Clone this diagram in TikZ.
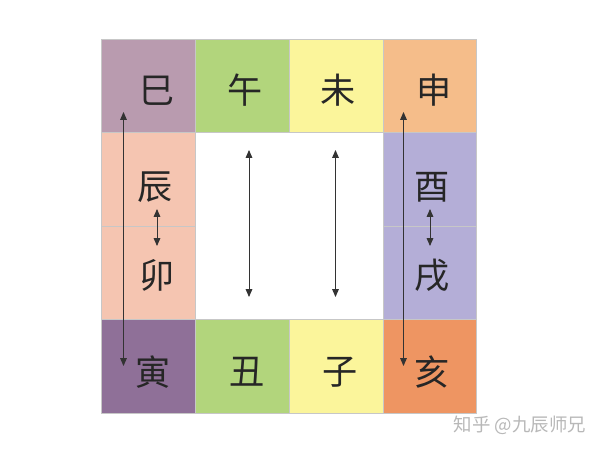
\documentclass[tikz,border=0pt]{standalone}
\usepackage{fontspec}
\newfontfamily\cjk{Noto Sans CJK SC}
\usetikzlibrary{arrows.meta}

\definecolor{siC}{HTML}{B99BAF}
\definecolor{wuC}{HTML}{B2D57C}
\definecolor{weiC}{HTML}{FBF59B}
\definecolor{shenC}{HTML}{F5BD8A}
\definecolor{chenC}{HTML}{F5C5B1}
\definecolor{youC}{HTML}{B4AED7}
\definecolor{yinC}{HTML}{8F7098}
\definecolor{haiC}{HTML}{EE9562}

\begin{document}
\begin{tikzpicture}[x=0.02cm,y=-0.02cm,
    cell/.style={draw=black!22, line width=0.4pt},
    zhi/.style={font=\cjk\fontsize{20}{20}\selectfont, text=black!85},
    link/.style={{Triangle[length=4.5pt,width=3.8pt]}-{Triangle[length=4.5pt,width=3.8pt]}, line width=0.55pt, draw=black!80}]
  \useasboundingbox (0,0) rectangle (600,450);

  % top row
  \draw [cell,fill=siC](101.5,39) rectangle (195.5,132.5);
  \draw [cell,fill=wuC](195.5,39) rectangle (289.5,132.5);
  \draw [cell,fill=weiC](289.5,39) rectangle (383,132.5);
  \draw [cell,fill=shenC](383,39) rectangle (476.5,132.5);

  % side columns
  \draw [cell,fill=chenC](101.5,132.5) rectangle (195.5,226);
  \draw [cell,fill=chenC](101.5,226) rectangle (195.5,319.5);
  \draw [cell,fill=youC](383,132.5) rectangle (476.5,226);
  \draw [cell,fill=youC](383,226) rectangle (476.5,319.5);

  % bottom row
  \draw [cell,fill=yinC](101.5,319.5) rectangle (195.5,413);
  \draw [cell,fill=wuC](195.5,319.5) rectangle (289.5,413);
  \draw [cell,fill=weiC](289.5,319.5) rectangle (383,413);
  \draw [cell,fill=haiC](383,319.5) rectangle (476.5,413);

  % branches
  \node [zhi] (si) at (157,91) {巳};
  \node [zhi] (wu) at (245,90) {午};
  \node [zhi] (wei) at (338,90) {未};
  \node [zhi] (shen) at (434,90) {申};
  \node [zhi] (chen) at (155,187) {辰};
  \node [zhi] (mao) at (157,275) {卯};
  \node [zhi] (you) at (432,187) {酉};
  \node [zhi] (xu) at (432,275) {戌};
  \node [zhi] (yin) at (153,372) {寅};
  \node [zhi] (chou) at (247,372) {丑};
  \node [zhi] (zi) at (340,372) {子};
  \node [zhi] (hai) at (432,372) {亥};

  % arrow ends
  \coordinate (siA) at (123.5,112);
  \coordinate (yinA) at (123.5,366);
  \coordinate (shenA) at (403.5,112);
  \coordinate (haiA) at (403.5,366);
  \coordinate (chenA) at (157,209);
  \coordinate (maoA) at (157,246);
  \coordinate (youA) at (430,209);
  \coordinate (xuA) at (430,246);
  \coordinate (wuA) at (249,150);
  \coordinate (chouA) at (249,297);
  \coordinate (weiA) at (335.5,150);
  \coordinate (ziA) at (335.5,297);

  \draw [link] (siA) -- (yinA);
  \draw [link] (shenA) -- (haiA);
  \draw [link] (chenA) -- (maoA);
  \draw [link] (youA) -- (xuA);
  \draw [link] (wuA) -- (chouA);
  \draw [link] (weiA) -- (ziA);

  % watermark
  \node [font=\cjk\fontsize{10.5}{10.5}\selectfont, text=black!28] (mark) at (520,425) {知乎 @九辰师兄};
\end{tikzpicture}
\end{document}
